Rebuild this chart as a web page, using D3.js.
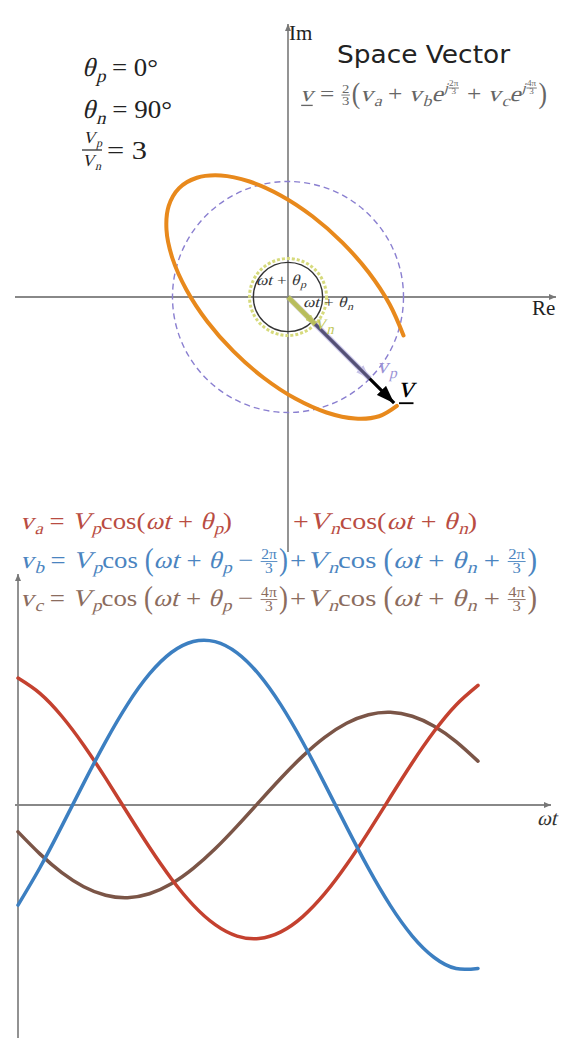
<!DOCTYPE html>
<html><head><meta charset="utf-8">
<script src="https://cdn.jsdelivr.net/npm/d3@7"></script>
<style>body{margin:0;background:#fff}svg{display:block}text{white-space:pre}</style>
</head><body>
<svg id="c" width="586" height="1038"></svg>
<script>
// ---- data ----
const wtDeg = [0,15,30,45,60,75,90,105,120,135,150,165,180,195,210,225,240,255,270,285,300,315];
const va = [3.000,2.639,2.098,1.414,0.634,-0.189,-1.000,-1.742,-2.366,-2.828,-3.098,-3.156,-3.000,-2.639,-2.098,-1.414,-0.634,0.189,1.000,1.742,2.366,2.828];
const vb = [-2.366,-1.484,-0.500,0.518,1.500,2.380,3.098,3.605,3.866,3.863,3.598,3.087,2.366,1.484,0.500,-0.518,-1.500,-2.380,-3.098,-3.605,-3.866,-3.863];
const vc = [-0.634,-1.155,-1.599,-1.932,-2.134,-2.191,-2.098,-1.863,-1.499,-1.036,-0.500,0.069,0.634,1.155,1.599,1.932,2.134,2.191,2.098,1.863,1.499,1.036];
const Vp = 3, Vn = 1, thetaP = 0, thetaN = 90;
const phaseColors = ["#c4412f", "#3c7fc1", "#7b5547"];
const textColors = ["#b94c42", "#4a84c0", "#8b6c5e"];

const svg = d3.select("#c");
const defs = svg.append("defs");
function marker(id, color, w, h) {
  defs.append("marker").attr("id", id).attr("markerUnits", "userSpaceOnUse")
    .attr("viewBox", `0 0 ${w} ${h}`).attr("refX", w).attr("refY", h / 2)
    .attr("markerWidth", w).attr("markerHeight", h).attr("orient", "auto")
    .append("path").attr("d", `M0,0L${w},${h / 2}L0,${h}Z`).attr("fill", color);
}
marker("axArrow", "#777", 7, 6);
marker("vArrow", "#000", 18, 13);
marker("pArrow", "#9a93d6", 14, 10);
marker("nArrow", "#c2c85a", 10, 8);

// ---- math text helper (italic = slanted Liberation Serif) ----
const I = (t, o = {}) => ({ t, i: true, ...o });
const R = (t, o = {}) => ({ t, ...o });
const Sb = (t) => ({ t, i: true, s: 0.7, dy: 0.22 });
const Sp = (t) => ({ t, i: true, s: 0.6, dy: -0.42 });
const F = (a, b, o = {}) => ({ frac: [a, b], ...o });
const B = (t) => ({ t, big: 1.3 });
const FONT = '"Liberation Serif","DejaVu Serif",serif';
function math(x, y, size, color, pieces, targetW) {
  const g = svg.append("g").attr("fill", color).style("font-family", FONT).attr("xml:space", "preserve");
  let cx = 0;
  for (const p of pieces) {
    if (p.frac) {
      const fs = size * (p.s || 0.58);
      const barY = (p.dy || 0) * size - size * 0.27;
      const n = g.append("text").attr("font-size", fs).text(p.frac[0]);
      const d = g.append("text").attr("font-size", fs).text(p.frac[1]);
      const w = Math.max(n.node().getComputedTextLength(), d.node().getComputedTextLength()) + 2;
      n.attr("x", cx + w / 2).attr("y", barY - fs * 0.2).attr("text-anchor", "middle");
      d.attr("x", cx + w / 2).attr("y", barY + fs * 0.8).attr("text-anchor", "middle");
      g.append("line").attr("x1", cx + 0.5).attr("x2", cx + w - 0.5).attr("y1", barY).attr("y2", barY)
        .attr("stroke", color).attr("stroke-width", Math.max(0.8, fs * 0.06));
      cx += w + 1;
    } else {
      const fs = size * (p.s || 1);
      const t = g.append("text").attr("font-size", fs).text(p.t);
      const ty = p.big ? 0.25 * size * (p.big - 1) : (p.dy || 0) * size;
      let tr = `translate(${cx},${ty})`;
      if (p.big) tr += ` scale(1,${p.big})`;
      if (p.i) tr += " skewX(-14)";
      t.attr("transform", tr);
      const w = t.node().getComputedTextLength();
      if (p.u) {
        g.append("line").attr("x1", cx + 1).attr("x2", cx + w).attr("y1", size * 0.2).attr("y2", size * 0.2)
          .attr("stroke", color).attr("stroke-width", Math.max(1, size * 0.06));
      }
      cx += w + (p.i && !p.dy ? size * 0.04 : 0);
    }
  }
  const sc = targetW ? targetW / cx : 1;
  g.attr("transform", `translate(${x},${y}) scale(${sc},1)`);
  return g;
}

// ---- top panel: space vector ----
const ox = 288, oy = 297, unit = 38.5;
const sx = d3.scaleLinear().domain([0, 1]).range([ox, ox + unit]);
const sy = d3.scaleLinear().domain([0, 1]).range([oy, oy - unit]);

svg.append("line").attr("x1", 15).attr("x2", 556).attr("y1", oy).attr("y2", oy)
  .attr("stroke", "#888").attr("stroke-width", 1.8).attr("marker-end", "url(#axArrow)");
svg.append("line").attr("x1", ox).attr("x2", ox).attr("y1", 552).attr("y2", 24)
  .attr("stroke", "#888").attr("stroke-width", 1.8).attr("marker-end", "url(#axArrow)");
math(289, 40, 21, "#222", [R("Im")]);
math(532, 315, 21, "#222", [R("Re")]);

svg.append("circle").attr("cx", sx(0)).attr("cy", sy(0)).attr("r", sx(Vp) - sx(0))
  .attr("fill", "none").attr("stroke", "#8a7fd0").attr("stroke-width", 1.4).attr("stroke-dasharray", "6,4");
svg.append("circle").attr("cx", sx(0)).attr("cy", sy(0)).attr("r", sx(Vn) - sx(0))
  .attr("fill", "none").attr("stroke", "#d6da7c").attr("stroke-width", 3).attr("stroke-dasharray", "3,2");
svg.append("circle").attr("cx", sx(0)).attr("cy", sy(0)).attr("r", sx(0.9) - sx(0))
  .attr("fill", "none").attr("stroke", "#333").attr("stroke-width", 1.4);

// space-vector locus from the phase values (Clarke transform)
const locus = wtDeg.map((w, i) => [va[i], (vb[i] - vc[i]) / Math.sqrt(3)]);
svg.append("path").datum(locus)
  .attr("d", d3.line().x(d => sx(d[0])).y(d => sy(d[1])).curve(d3.curveCatmullRom.alpha(0.5)))
  .attr("fill", "none").attr("stroke", "#e8891c").attr("stroke-width", 4).attr("stroke-linecap", "round");

// vectors at the last instant
const wNow = wtDeg[wtDeg.length - 1] * Math.PI / 180;
const tip = locus[locus.length - 1];
const vpTip = [Vp * Math.cos(wNow + thetaP * Math.PI / 180), Vp * Math.sin(wNow + thetaP * Math.PI / 180)];
const vnTip = [Vn * Math.cos(-(wNow + thetaN * Math.PI / 180)), Vn * Math.sin(-(wNow + thetaN * Math.PI / 180))];
const shorten = 0.975;
svg.append("line").attr("x1", sx(0)).attr("y1", sy(0)).attr("x2", sx(tip[0] * shorten)).attr("y2", sy(tip[1] * shorten))
  .attr("stroke", "#000").attr("stroke-width", 3.2).attr("marker-end", "url(#vArrow)");
svg.append("line").attr("x1", sx(0)).attr("y1", sy(0)).attr("x2", sx(vpTip[0])).attr("y2", sy(vpTip[1]))
  .attr("stroke", "#9a93d6").attr("stroke-width", 5.5).attr("opacity", 0.55).attr("marker-end", "url(#pArrow)");
svg.append("line").attr("x1", sx(0)).attr("y1", sy(0)).attr("x2", sx(vnTip[0])).attr("y2", sy(vnTip[1]))
  .attr("stroke", "#c2c85a").attr("stroke-width", 5).attr("opacity", 0.9).attr("marker-end", "url(#nArrow)");

math(256, 285, 15, "#333", [I("ωt"), R(" + "), I("θ"), Sb("p")], 50);
math(303, 307, 15, "#333", [I("ωt"), R(" + "), I("θ"), Sb("n")], 50);
math(315, 329, 21, "#c2c85a", [I("v"), Sb("n")]);
math(377, 373, 22, "#9a93d6", [I("v"), Sb("p")]);
math(398, 397, 31, "#000", [I("v", { u: true })]);

// parameters
math(82, 76, 26, "#222", [I("θ"), Sb("p"), R(" = 0°")], 76);
math(82, 118, 26, "#222", [I("θ"), Sb("n"), R(" = 90°")], 90);
math(83, 143, 17, "#222", [I("V"), Sb("p")]);
svg.append("line").attr("x1", 82).attr("x2", 102).attr("y1", 150).attr("y2", 150).attr("stroke", "#222").attr("stroke-width", 1.2);
math(82, 166, 17, "#222", [I("V"), Sb("n")]);
math(107, 159, 26, "#222", [R("= 3")], 40);

// title and formula
svg.append("text").attr("x", 337).attr("y", 63).attr("font-size", 25)
  .attr("textLength", 173).attr("lengthAdjust", "spacingAndGlyphs")
  .style("font-family", '"DejaVu Sans",sans-serif').attr("fill", "#222").text("Space Vector");
math(300, 101, 22, "#666", [I("v", { u: true }), R(" = "), F("2", "3"), B("("), I("v"), Sb("a"), R(" + "), I("v"), Sb("b"),
  I("e"), Sp("j"), F("2π", "3", { s: 0.36, dy: -0.32 }), R(" + "), I("v"), Sb("c"), I("e"), Sp("j"), F("4π", "3", { s: 0.36, dy: -0.32 }), B(")")], 247);

// ---- phase equations ----
const eqY = [529, 568, 606];
math(20, eqY[0], 24, textColors[0], [I("v"), Sb("a"), R(" = "), I("V"), Sb("p"), R("cos("), I("ωt"), R(" + "), I("θ"), Sb("p"), R(")")], 212);
math(293, eqY[0], 24, textColors[0], [R("+"), I("V"), Sb("n"), R("cos("), I("ωt"), R(" + "), I("θ"), Sb("n"), R(")")], 184);
math(20, eqY[1], 24, textColors[1], [I("v"), Sb("b"), R(" = "), I("V"), Sb("p"), R("cos "), B("("), I("ωt"), R(" + "), I("θ"), Sb("p"), R(" − "), F("2π", "3"), B(")")], 268);
math(290, eqY[1], 24, textColors[1], [R("+"), I("V"), Sb("n"), R("cos "), B("("), I("ωt"), R(" + "), I("θ"), Sb("n"), R(" + "), F("2π", "3"), B(")")], 247);
math(20, eqY[2], 24, textColors[2], [I("v"), Sb("c"), R(" = "), I("V"), Sb("p"), R("cos "), B("("), I("ωt"), R(" + "), I("θ"), Sb("p"), R(" − "), F("4π", "3"), B(")")], 268);
math(290, eqY[2], 24, textColors[2], [R("+"), I("V"), Sb("n"), R("cos "), B("("), I("ωt"), R(" + "), I("θ"), Sb("n"), R(" + "), F("4π", "3"), B(")")], 247);

// ---- bottom panel: waveforms ----
const x = d3.scaleLinear().domain([0, 315]).range([18, 478]);
const y = d3.scaleLinear().domain([0, 1]).range([805, 762.7]);
svg.append("line").attr("x1", 18).attr("x2", 18).attr("y1", 1038).attr("y2", 574)
  .attr("stroke", "#777").attr("stroke-width", 1.6).attr("marker-end", "url(#axArrow)");
svg.append("line").attr("x1", 15).attr("x2", 551).attr("y1", y(0)).attr("y2", y(0))
  .attr("stroke", "#888").attr("stroke-width", 1.8).attr("marker-end", "url(#axArrow)");
math(537, 825, 21, "#333", [I("ωt")]);

const line = d3.line().x((d, i) => x(wtDeg[i])).y(d => y(d)).curve(d3.curveNatural);
[[vc, 2], [va, 0], [vb, 1]].forEach(([s, idx]) => {
  svg.append("path").datum(s).attr("d", line).attr("fill", "none")
    .attr("stroke", phaseColors[idx]).attr("stroke-width", 3.5).attr("stroke-linecap", "round");
});
</script>
</body></html>
